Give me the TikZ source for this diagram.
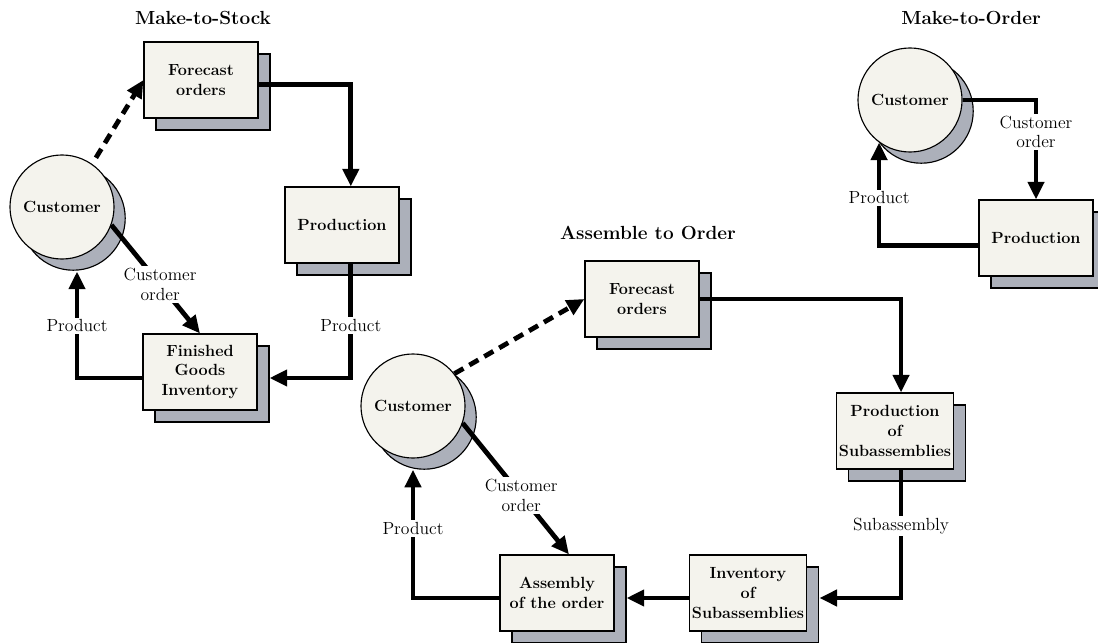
\documentclass[tikz,border=0pt]{standalone}
\usepackage{tikz}
\usetikzlibrary{arrows.meta,shadows}

\definecolor{boxfill}{RGB}{244,243,237}
\definecolor{shadowgray}{RGB}{172,176,186}

\tikzset{
	proc/.style={draw, thick, fill=boxfill, minimum width=2.85cm, minimum height=1.9cm, align=center, inner sep=2pt,
		font=\bfseries\fontsize{11.5}{14}\selectfont,
		copy shadow={shadow xshift=0.3cm, shadow yshift=-0.3cm, draw, thick, fill=shadowgray}},
	cust/.style={circle, draw, thick, fill=boxfill, minimum size=2.6cm, font=\bfseries\fontsize{11.5}{14}\selectfont,
		copy shadow={shadow xshift=0.28cm, shadow yshift=-0.28cm, draw, thick, fill=shadowgray}},
	flow/.style={line width=3.4pt, -{Triangle[length=0.44cm, width=0.4cm]}},
	guess/.style={flow, dash pattern=on 0.26cm off 0.17cm},
	lbl/.style={fill=white, align=center, inner sep=1.5pt, font=\fontsize{12.5}{14}\selectfont},
	ttl/.style={font=\bfseries\fontsize{13.5}{15}\selectfont}
}

\begin{document}
\begin{tikzpicture}[x=0.025cm, y=-0.025cm]
	\useasboundingbox (0,0) rectangle (1098,643);

	% Make-to-Stock
	\node[ttl] (ttlA) at (203,18) {Make-to-Stock};
	\node[proc] (foA) at (201,80) {Forecast\\orders};
	\node[proc] (prA) at (342,225) {Production};
	\node[proc] (fgA) at (200,372) {Finished\\Goods\\Inventory};
	\node[cust] (cuA) at (62,207) {Customer};

	\draw[guess, shorten <=0.18cm] (cuA.55) -- (foA.west);
	\draw[flow] ([yshift=-0.12cm]foA.east) -| ([xshift=0.22cm]prA.north);
	\draw[flow] ([xshift=0.22cm]prA.south) |- node[lbl, pos=0.27] {Product} ([xshift=0.3cm, yshift=-0.15cm]fgA.east);
	\draw[flow] ([yshift=-0.15cm]fgA.west) -| node[lbl, pos=0.745] {Product} ([xshift=0.375cm, yshift=-0.3cm]cuA.south);
	\draw[flow] (cuA.-20) -- node[lbl, pos=0.55] {Customer\\order} (fgA.north);

	% Make-to-Order
	\node[ttl] (ttlB) at (971,18) {Make-to-Order};
	\node[cust] (cuB) at (910,100) {Customer};
	\node[proc] (prB) at (1036,238) {Production};

	\draw[flow] (cuB.east) -| node[lbl, pos=0.66] {Customer\\order} (prB.north);
	\draw[flow] ([yshift=-0.18cm]prB.west) -| node[lbl, pos=0.73] {Product} (cuB.234);

	% Assemble to Order
	\node[ttl] (ttlC) at (648,233) {Assemble to Order};
	\node[cust] (cuC) at (413,406) {Customer};
	\node[proc] (foC) at (642,299) {Forecast\\orders};
	\node[proc] (psC) at (895,431) {Production\\of\\Subassemblies};
	\node[proc] (inC) at (748,593) {Inventory\\of\\Subassemblies};
	\node[proc] (asC) at (557,593) {Assembly\\of the order};

	\draw[guess] (cuC.38) -- (foC.west);
	\draw[flow] (foC.east) -| ([xshift=0.15cm]psC.north);
	\draw[flow] ([xshift=0.15cm]psC.south) |- node[lbl, pos=0.22] {Subassembly} ([xshift=0.3cm, yshift=-0.125cm]inC.east);
	\draw[flow] ([yshift=-0.125cm]inC.west) -- ([xshift=0.3cm, yshift=-0.125cm]asC.east);
	\draw[flow] ([yshift=-0.125cm]asC.west) -| node[lbl, pos=0.77] {Product} ([yshift=-0.28cm]cuC.south);
	\draw[flow] (cuC.-19) -- node[lbl, pos=0.55] {Customer\\order} ([xshift=0.3cm]asC.north);
\end{tikzpicture}
\end{document}
